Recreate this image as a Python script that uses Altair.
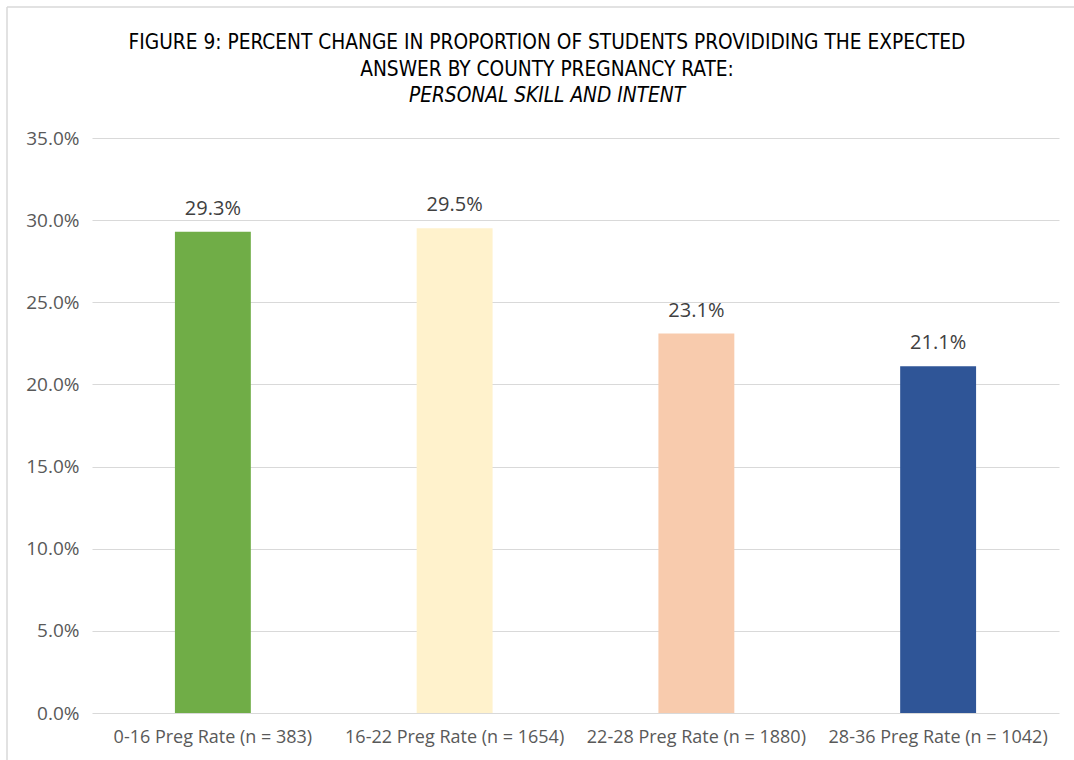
import altair as alt
import pandas as pd

categories = [
    "0-16 Preg Rate (n = 383)",
    "16-22 Preg Rate (n = 1654)",
    "22-28 Preg Rate (n = 1880)",
    "28-36 Preg Rate (n = 1042)",
]
values = [29.3, 29.5, 23.1, 21.1]
colors = ["#70AD47", "#FFF2CC", "#F8CBAD", "#2F5597"]
y_ticks = [0, 5, 10, 15, 20, 25, 30, 35]
title_lines = [
    "FIGURE 9: PERCENT CHANGE IN PROPORTION OF STUDENTS PROVIDIDING THE EXPECTED",
    "ANSWER BY COUNTY PREGNANCY RATE:",
]
subtitle_line = "PERSONAL SKILL AND INTENT"

df = pd.DataFrame({
    "category": categories,
    "value": values,
    "label": [f"{v:.1f}%" for v in values],
})

LABEL_FONT = "Open Sans"
TITLE_FONT = "Liberation Sans Narrow, DejaVu Sans Condensed, sans-serif"

x_enc = alt.X(
    "category:N",
    sort=categories,
    title=None,
    scale=alt.Scale(paddingInner=0.686, paddingOuter=0.343),
    axis=alt.Axis(
        labelAngle=0,
        labelFont=LABEL_FONT,
        labelFontSize=18,
        labelColor="#595959",
        labelPadding=15,
        labelLimit=0,
        domain=False,
        ticks=False,
        grid=False,
    ),
)

y_enc = alt.Y(
    "value:Q",
    title=None,
    scale=alt.Scale(domain=[0, 35], nice=False),
    axis=alt.Axis(
        values=y_ticks,
        labelExpr="format(datum.value, '.1f') + '%'",
        labelFont=LABEL_FONT,
        labelFontSize=19,
        labelColor="#595959",
        labelPadding=13,
        domain=False,
        ticks=False,
        grid=True,
        gridColor="#D9D9D9",
        gridWidth=1,
    ),
)

bars = alt.Chart(df).mark_bar().encode(
    x=x_enc,
    y=y_enc,
    color=alt.Color("category:N", scale=alt.Scale(domain=categories, range=colors), legend=None),
)

labels = alt.Chart(df).mark_text(
    font=LABEL_FONT,
    fontSize=20,
    color="#404040",
    baseline="alphabetic",
    dy=-17,
).encode(
    x=alt.X("category:N", sort=categories),
    y="value:Q",
    text="label:N",
)

one_row = alt.Data(values=[{}])

# light frame around the whole figure
frame_left = alt.Chart(one_row).mark_rule(color="#D9D9D9", strokeWidth=1.5).encode(
    x=alt.value(-85), y=alt.value(-131), y2=alt.value(700)
)
frame_top = alt.Chart(one_row).mark_rule(color="#D9D9D9", strokeWidth=1.5).encode(
    x=alt.value(-85), x2=alt.value(1000), y=alt.value(-131)
)

# three-line heading, the last line in italics
heading = [
    alt.Chart(one_row).mark_text(
        font=TITLE_FONT, fontSize=20.7, color="#000000", baseline="middle", align="center",
        fontStyle=style,
    ).encode(x=alt.value(455), y=alt.value(ypos), text=alt.value(txt))
    for txt, ypos, style in [
        (title_lines[0], -95, "normal"),
        (title_lines[1], -68, "normal"),
        (subtitle_line, -42, "italic"),
    ]
]

chart = alt.layer(frame_left, frame_top, *heading, bars, labels).properties(
    width=967,
    height=575,
    autosize=alt.AutoSizeParams(type="none"),
    padding={"left": 92, "top": 138, "right": 15, "bottom": 47},
    background="white",
).configure_view(stroke=None)

chart.save("out.html", embed_options={"renderer": "svg", "actions": False})
